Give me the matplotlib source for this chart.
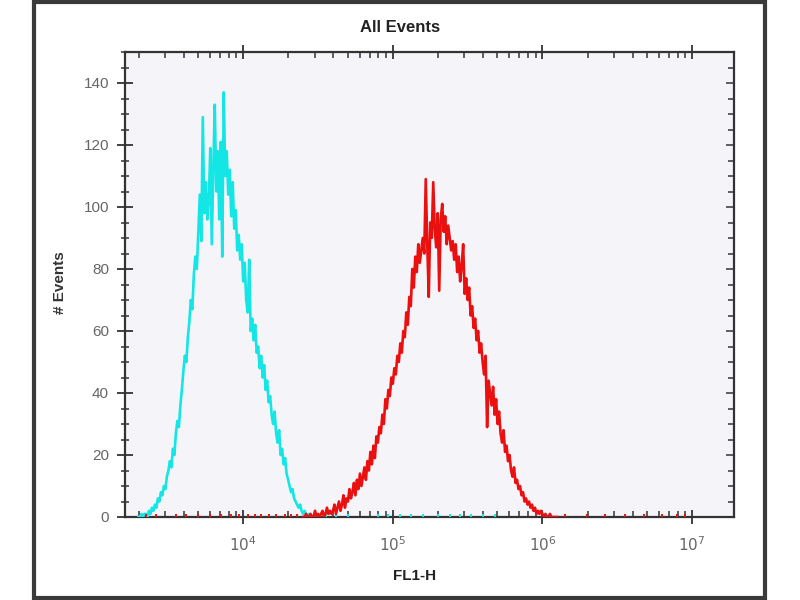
import numpy as np
import matplotlib
matplotlib.use("Agg")
import matplotlib.pyplot as plt
from matplotlib.patches import Rectangle
from matplotlib.ticker import FixedLocator, LogLocator, NullFormatter

# histogram channels are log10(FL1-H), one every 0.01 decade
cyan_start = 3.30
cyan_counts = [
    0, 0, 1, 0, 1, 1, 0, 2, 1, 3,
    2, 4, 3, 6, 5, 8, 7, 10, 9, 13,
    15, 18, 16, 22, 20, 27, 31, 29, 36, 41,
    47, 52, 50, 58, 63, 70, 67, 78, 84, 80,
    92, 104, 89, 129, 98, 108, 96, 102, 119, 88,
    112, 133, 105, 118, 96, 121, 84, 137, 110, 118,
    104, 112, 97, 108, 93, 99, 86, 91, 83, 88,
    76, 82, 70, 66, 83, 60, 64, 57, 62, 53,
    55, 48, 52, 45, 49, 41, 44, 37, 39, 33,
    30, 34, 27, 24, 28, 20, 22, 17, 19, 14,
    12, 10, 8, 9, 6, 5, 4, 3, 4, 2,
    1, 2, 1, 0, 1, 0,
]

red_start = 4.40
red_counts = [
    0, 0, 1, 0, 0, 1, 0, 0, 2, 0,
    1, 0, 1, 2, 0, 1, 3, 1, 2, 1,
    2, 4, 1, 3, 5, 2, 4, 7, 3, 6,
    5, 9, 6, 8, 11, 7, 12, 9, 14, 10,
    13, 16, 12, 18, 15, 21, 17, 23, 19, 26,
    24, 29, 27, 33, 30, 38, 35, 41, 39, 45,
    43, 48, 46, 52, 50, 56, 53, 60, 58, 66,
    62, 71, 68, 80, 74, 84, 79, 88, 82, 86,
    90, 85, 109, 88, 71, 95, 90, 108, 93, 87,
    98, 73, 96, 101, 92, 97, 88, 94, 90, 86,
    89, 83, 88, 79, 84, 76, 81, 88, 72, 77,
    70, 74, 65, 68, 61, 64, 57, 60, 53, 56,
    50, 46, 52, 29, 44, 40, 36, 42, 33, 38,
    30, 34, 27, 24, 28, 21, 23, 18, 20, 15,
    13, 16, 11, 12, 9, 10, 7, 8, 5, 6,
    4, 5, 3, 4, 2, 3, 1, 2, 1, 2,
    1, 0, 1, 0, 0, 1, 0, 0, 0, 0, 0,
]

# isolated single events sitting on the baseline
red_stray = [3.35, 3.42, 3.55, 3.62, 3.70, 3.78, 3.85, 3.92, 3.97, 4.03,
             4.08, 4.12, 4.17, 4.22, 4.28, 4.32, 4.36, 6.15, 6.30, 6.42,
             6.55, 6.68, 6.80, 6.90, 6.95]
cyan_stray = [4.48, 4.55, 4.62, 4.70, 4.90, 4.97, 5.05, 5.12, 5.20, 5.30,
              5.38, 5.45, 5.52, 5.60, 5.68]

y_ticks = [0, 20, 40, 60, 80, 100, 120, 140]
x_decades = [4, 5, 6, 7]

CYAN = '#14e6e6'
RED = '#ea1010'
plt.rcParams['font.family'] = ['Liberation Sans', 'DejaVu Sans']

fig = plt.figure(figsize=(8, 6), dpi=100)
W, H = 800, 600

def box(l, t, r, b):
    return [l / W, 1 - b / H, (r - l) / W, (b - t) / H]

ax = fig.add_axes(box(125, 52, 734, 517))
ax.set_facecolor('#f4f4f9')

cx = 10 ** (cyan_start + 0.01 * np.arange(len(cyan_counts)))
rx = 10 ** (red_start + 0.01 * np.arange(len(red_counts)))
ax.plot(cx, cyan_counts, color=CYAN, lw=1.9, zorder=3)
ax.plot(rx, red_counts, color=RED, lw=1.9, zorder=4)
ax.vlines(10 ** np.array(red_stray), 0, 1, color=RED, lw=1.4, zorder=4)
ax.vlines(10 ** np.array(cyan_stray), 0, 1, color=CYAN, lw=1.4, zorder=3)

ax.set_xscale('log')
ax.set_xlim(10 ** 3.21, 10 ** 7.28)
ax.set_ylim(0, 150)

ax.xaxis.set_major_locator(FixedLocator([10 ** d for d in x_decades]))
ax.set_xticklabels([rf'$10^{{{d}}}$' for d in x_decades])
ax.xaxis.set_minor_locator(LogLocator(base=10, subs=np.arange(2, 10)))
ax.xaxis.set_minor_formatter(NullFormatter())
ax.set_yticks(y_ticks)
ax.yaxis.set_minor_locator(FixedLocator(np.arange(0, 151, 5)))

for s in ax.spines.values():
    s.set_color('#333333')
    s.set_linewidth(1.6)

ax.tick_params(axis='x', which='major', direction='inout', length=10, width=1.3,
               color='#333333', top=True, labelsize=11, labelcolor='#666666', pad=8)
ax.tick_params(axis='x', which='minor', direction='in', length=4, width=1.1,
               color='#333333', top=True)
ax.tick_params(axis='y', which='major', direction='inout', length=11, width=1.3,
               color='#333333', right=False, labelsize=11, labelcolor='#666666', pad=6)
ax.tick_params(axis='y', which='minor', direction='inout', length=6, width=1.1,
               color='#333333', right=False)

axr = ax.twinx()
axr.set_ylim(0, 150)
axr.set_yticks(y_ticks)
axr.yaxis.set_minor_locator(FixedLocator(np.arange(0, 151, 5)))
axr.tick_params(axis='y', which='both', direction='in', labelright=False,
                color='#333333', width=1.1)
axr.tick_params(axis='y', which='major', length=6)
axr.tick_params(axis='y', which='minor', length=4)
axr.spines[:].set_visible(False)

fig.text(400 / W, 1 - 27 / H, 'All Events', ha='center', va='center',
         fontsize=12, fontweight='bold', color='#222222')
fig.text(415 / W, 1 - 576 / H, 'FL1-H', ha='center', va='center',
         fontsize=11, fontweight='bold', color='#222222')
fig.text(60 / W, 1 - 283 / H, '# Events', ha='center', va='center', rotation=90,
         fontsize=11, fontweight='bold', color='#333333')

fig.patches.append(Rectangle((34 / W, 2 / H), (765 - 34) / W, (599 - 3) / H,
                             transform=fig.transFigure, fill=False,
                             edgecolor='#3a3a3a', lw=3))

fig.savefig('out.png', dpi=100)
